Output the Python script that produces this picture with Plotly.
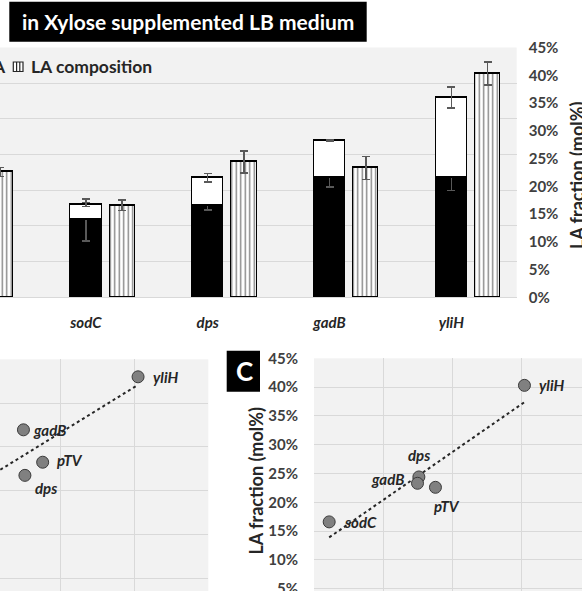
import numpy as np
import plotly.graph_objects as go

# ---------------- data ----------------
genes = ["pTV", "sodC", "dps", "gadB", "yliH"]
# panel A (left, hidden axis units): lower (black) part and stacked total
black_vals = [2.60, 2.17, 2.56, 3.36, 3.36]
total_vals = [3.65, 2.60, 3.35, 4.39, 5.60]
black_err = [0.20, 0.59, 0.12, 0.27, 0.37]
white_err = [0.20, 0.05, 0.12, 0.02, 0.29]
# LA composition (mol%)
la_frac = [22.6, 16.6, 24.4, 23.3, 40.3]
la_err = [0.8, 0.97, 2.0, 2.1, 2.05]
# shared x variable of panels B and C
expr_x = [1.76, 0.22, 1.52, 1.50, 3.05]

white_vals = [t - b for t, b in zip(total_vals, black_vals)]
cat_idx = list(range(len(genes)))

W, H = 582, 591
def fx(p): return p / W
def fy(p): return 1 - p / H

FONT = "Lato"
DARK = "#262626"
ERRC = "#595959"
GRID = "#d9d9d9"

fig = go.Figure()

# ---------------- panel A ----------------
STRIPE_OFF = 0.298
BW_BLACK = 0.259
BW_STRIPE = 0.208

fig.add_trace(go.Bar(
    x=cat_idx, y=black_vals, width=BW_BLACK, xaxis="x", yaxis="y",
    marker=dict(color="black", line=dict(color="black", width=1.3)),
    error_y=dict(type="data", array=black_err, color=ERRC, thickness=1.5, width=4),
    showlegend=False))
fig.add_trace(go.Bar(
    x=cat_idx, y=white_vals, width=BW_BLACK, xaxis="x", yaxis="y",
    marker=dict(color="white", line=dict(color="black", width=1.3)),
    error_y=dict(type="data", array=white_err, color=ERRC, thickness=1.5, width=4),
    showlegend=False))
fig.add_trace(go.Bar(
    x=[i + STRIPE_OFF for i in cat_idx], y=la_frac, width=BW_STRIPE, xaxis="x", yaxis="y2",
    marker=dict(color="white", line=dict(color="black", width=1.3),
                pattern=dict(shape="|", fgcolor="black", bgcolor="white", size=4.5, solidity=0.3)),
    error_y=dict(type="data", array=la_err, color=ERRC, thickness=1.5, width=4),
    showlegend=False))

# ---------------- panels B & C: scatter + linear trendline ----------------
def trend(xs, ys):
    k, b = np.polyfit(xs, ys, 1)
    xx = np.array([min(xs), max(xs)])
    return xx, k * xx + b

mk = dict(size=12, color="#808080", line=dict(color="#3a3a3a", width=1))

tx, ty = trend(expr_x, total_vals)
fig.add_trace(go.Scatter(x=tx, y=ty, mode="lines", xaxis="x2", yaxis="y3",
                         line=dict(color=DARK, width=2, dash="dot"), showlegend=False))
fig.add_trace(go.Scatter(x=expr_x, y=total_vals, mode="markers", xaxis="x2", yaxis="y3",
                         marker=mk, showlegend=False))

tx, ty = trend(expr_x, la_frac)
fig.add_trace(go.Scatter(x=tx, y=ty, mode="lines", xaxis="x3", yaxis="y4",
                         line=dict(color=DARK, width=2, dash="dot"), showlegend=False))
fig.add_trace(go.Scatter(x=expr_x, y=la_frac, mode="markers", xaxis="x3", yaxis="y4",
                         marker=mk, showlegend=False))

# ---------------- layout ----------------
tickf = dict(family=FONT, size=15, color="#404040", weight="bold")
fig.update_layout(
    width=W, height=H, margin=dict(l=0, r=0, t=0, b=0, autoexpand=False),
    paper_bgcolor="white", plot_bgcolor="#f2f2f2",
    barmode="stack", bargap=0,
    font=dict(family=FONT, color=DARK),
    xaxis=dict(domain=[0, fx(516.7)], range=[1 - 85.9 / 121.8, 1 + (516.7 - 85.9) / 121.8],
               tickvals=cat_idx, ticktext=genes, ticks="", showgrid=False, zeroline=False,
               showline=True, linecolor=GRID, linewidth=1, ticklabelstandoff=12,
               tickfont=dict(family=FONT, size=15, color=DARK, weight="bold", style="italic"),
               anchor="y", automargin=False),
    yaxis=dict(domain=[fy(297.3), fy(47.5)], range=[0, 7], dtick=1, showticklabels=False,
               gridcolor=GRID, gridwidth=1, zeroline=False, ticks="", anchor="x", automargin=False),
    yaxis2=dict(overlaying="y", side="right", range=[0, 45], dtick=5, ticksuffix="%",
                showgrid=False, zeroline=False, ticks="", tickfont=tickf,
                ticklabelstandoff=11, anchor="x", automargin=False, ticklabeloverflow="allow"),
    xaxis2=dict(domain=[0, fx(208.3)], range=[1.183, 4], dtick=1, gridcolor=GRID,
                zeroline=False, showticklabels=False, ticks="", anchor="y3", automargin=False),
    yaxis3=dict(domain=[0, fy(359.3)], range=[0.71, 6], dtick=1, gridcolor=GRID,
                zeroline=False, showticklabels=False, ticks="", anchor="x2", automargin=False),
    xaxis3=dict(domain=[fx(314), 1], range=[0, 3.884], dtick=1, gridcolor=GRID,
                zeroline=False, showticklabels=False, ticks="", anchor="y4", automargin=False),
    yaxis4=dict(domain=[0, fy(358.3)], range=[4.6, 45], dtick=5, ticksuffix="%",
                gridcolor=GRID, zeroline=False, ticks="", tickfont=tickf,
                ticklabelstandoff=15, anchor="x3", automargin=False, ticklabeloverflow="allow"),
)

shapes = []
annos = []

# title box
shapes.append(dict(type="rect", xref="paper", yref="paper", x0=fx(9.3), x1=fx(366.7),
                   y0=fy(41.7), y1=fy(1.7), fillcolor="black", line=dict(width=0), layer="above"))
annos.append(dict(xref="paper", yref="paper", x=fx(188), y=fy(22), text="in Xylose supplemented LB medium",
                  showarrow=False, font=dict(family=FONT, size=21, color="white", weight="bold"),
                  xanchor="center", yanchor="middle"))
# panel C letter
shapes.append(dict(type="rect", xref="paper", yref="paper", x0=fx(226.7), x1=fx(260),
                   y0=fy(391.7), y1=fy(350.7), fillcolor="black", line=dict(width=0), layer="above"))
annos.append(dict(xref="paper", yref="paper", x=fx(244.5), y=fy(371), text="C", showarrow=False,
                  font=dict(family=FONT, size=26, color="white", weight="bold"),
                  xanchor="center", yanchor="middle"))

# legend (partially visible)
annos.append(dict(xref="paper", yref="paper", x=fx(8), y=fy(67), text="A", showarrow=False,
                  font=dict(family=FONT, size=17.5, color=DARK, weight="bold"),
                  xanchor="right", yanchor="middle"))
shapes.append(dict(type="rect", xref="paper", yref="paper", x0=fx(13.3), x1=fx(23),
                   y0=fy(71.5), y1=fy(62), fillcolor="white", line=dict(color=DARK, width=1.2)))
for lx in (16.6, 19.8):
    shapes.append(dict(type="line", xref="paper", yref="paper", x0=fx(lx), x1=fx(lx),
                       y0=fy(71.5), y1=fy(62), line=dict(color=DARK, width=1.2)))
annos.append(dict(xref="paper", yref="paper", x=fx(29), y=fy(67), text="LA composition", showarrow=False,
                  font=dict(family=FONT, size=17.5, color=DARK, weight="bold"),
                  xanchor="left", yanchor="middle"))

# axis titles
annos.append(dict(xref="paper", yref="paper", x=fx(577), y=fy(176), text="LA fraction (mol%)",
                  showarrow=False, textangle=-90, font=dict(family=FONT, size=18, color=DARK, weight="bold"),
                  xanchor="center", yanchor="middle"))
annos.append(dict(xref="paper", yref="paper", x=fx(255.5), y=fy(481), text="LA fraction (mol%)",
                  showarrow=False, textangle=-90, font=dict(family=FONT, size=18, color=DARK, weight="bold"),
                  xanchor="center", yanchor="middle"))

# point labels (xanchor, yanchor, xshift, yshift)
lab_font = dict(family=FONT, size=15, color=DARK, weight="bold", style="italic")
b_pos = {"pTV": ("left", "middle", 12, 2), "dps": ("center", "middle", 21, -13),
         "gadB": ("left", "middle", 8, 0), "yliH": ("left", "middle", 13, 0)}
c_pos = {"pTV": ("center", "middle", 12, -19), "sodC": ("left", "middle", 13, 0),
         "dps": ("center", "middle", 0, 22), "gadB": ("right", "middle", -12, 4),
         "yliH": ("left", "middle", 13, 0)}
for g, xv, yb, yc in zip(genes, expr_x, total_vals, la_frac):
    if g in b_pos:
        xa, ya, xs, ys = b_pos[g]
        annos.append(dict(xref="x2", yref="y3", x=xv, y=yb, text=g, showarrow=False,
                          xanchor=xa, yanchor=ya, xshift=xs, yshift=ys, font=lab_font))
    if g in c_pos:
        xa, ya, xs, ys = c_pos[g]
        annos.append(dict(xref="x3", yref="y4", x=xv, y=yc, text=g, showarrow=False,
                          xanchor=xa, yanchor=ya, xshift=xs, yshift=ys, font=lab_font))

fig.update_layout(shapes=shapes, annotations=annos)
fig.write_html("out.html", config={"displayModeBar": False},
               post_script="document.body.style.margin='0px';document.body.style.overflow='hidden';")
